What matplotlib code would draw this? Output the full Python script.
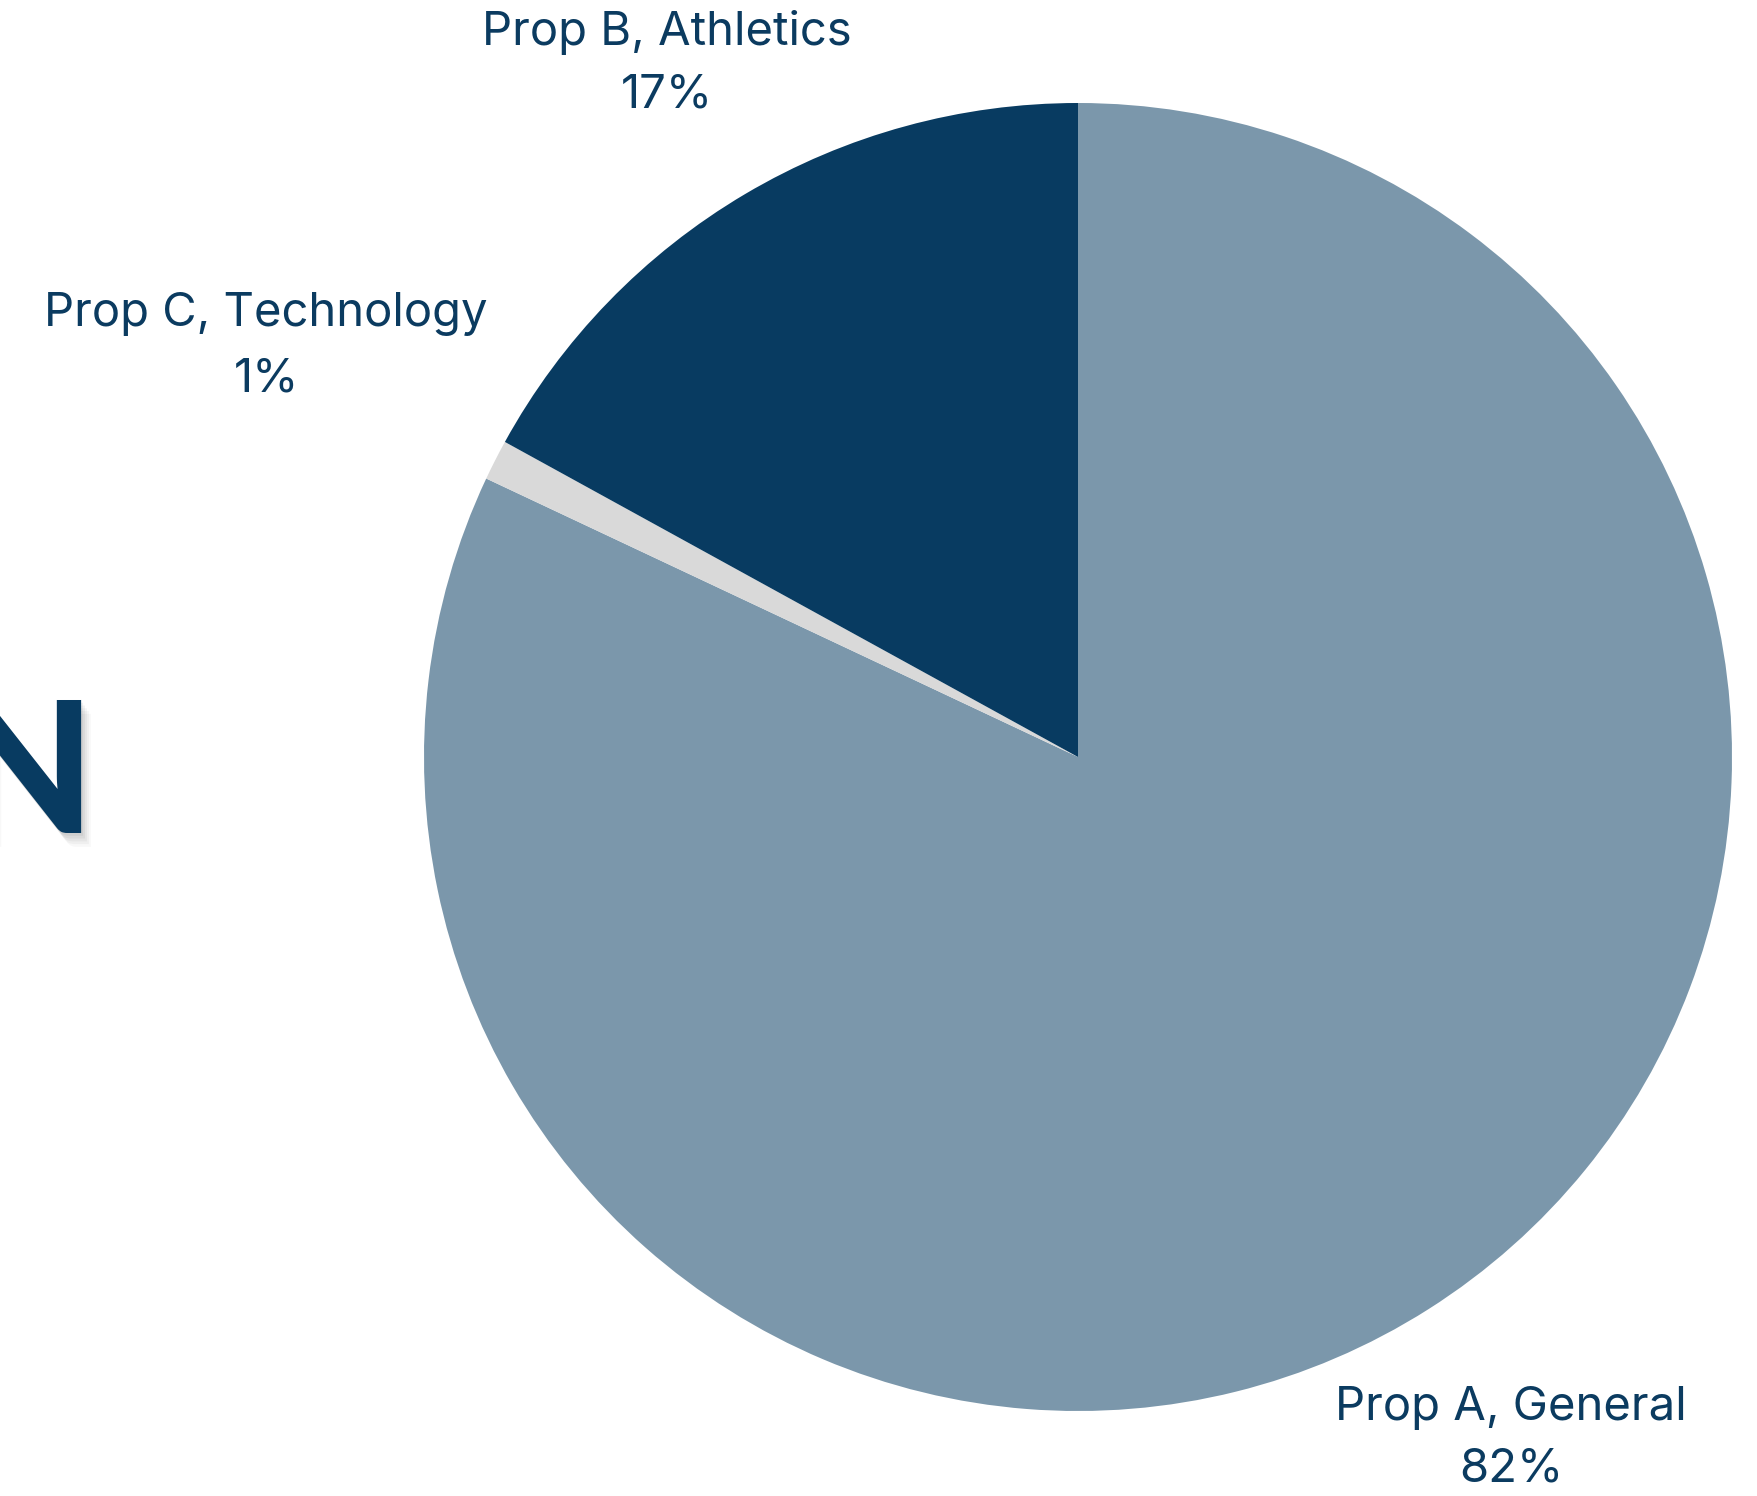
import matplotlib
matplotlib.use("Agg")
import matplotlib.pyplot as plt
import matplotlib.patheffects as pe

categories = ["Prop A, General", "Prop C, Technology", "Prop B, Athletics"]
values = [82, 1, 17]
colors = ["#7B97AB", "#D9D9D9", "#083B61"]
text_color = "#0B3B60"

W, H = 1757, 1496
fig = plt.figure(figsize=(W / 100, H / 100), dpi=100)
ax = fig.add_axes([0, 0, 1, 1])
ax.set_xlim(0, W)
ax.set_ylim(0, H)
ax.set_aspect("equal")
ax.axis("off")

ax.pie(values, colors=colors, startangle=90, counterclock=False,
       center=(1078, H - 757), radius=654, frame=True,
       wedgeprops=dict(linewidth=0))
ax.set_xlim(0, W)
ax.set_ylim(0, H)
ax.axis("off")

font = ["Inter", "DejaVu Sans"]
label_pos = {
    "Prop A, General": (1511, 1408, 1470),
    "Prop C, Technology": (266, 314, 379),
    "Prop B, Athletics": (667, 32, 95),
}
for cat, val in zip(categories, values):
    x, y1, y2 = label_pos[cat]
    ax.text(x, H - y1, cat, ha="center", va="center", fontsize=34,
            color=text_color, family=font)
    ax.text(x, H - y2, f"{val}%", ha="center", va="center", fontsize=34,
            color=text_color, family=font)

# partially cropped large letter on left edge, with a soft shadow
shadow = []
for d, a in [(10, 0.04), (8, 0.05), (6, 0.06), (4, 0.07), (2, 0.08)]:
    shadow.append(pe.SimplePatchShadow(offset=(d * 0.7, -d), shadow_rgbFace="#555555", alpha=a))
ax.text(95, H - 833, "N", ha="right", va="baseline", fontsize=132,
        fontweight="black", color="#083B61", family=["Lato", "DejaVu Sans"],
        path_effects=shadow + [pe.Normal()])

fig.savefig("out.png", dpi=100, facecolor="white")
